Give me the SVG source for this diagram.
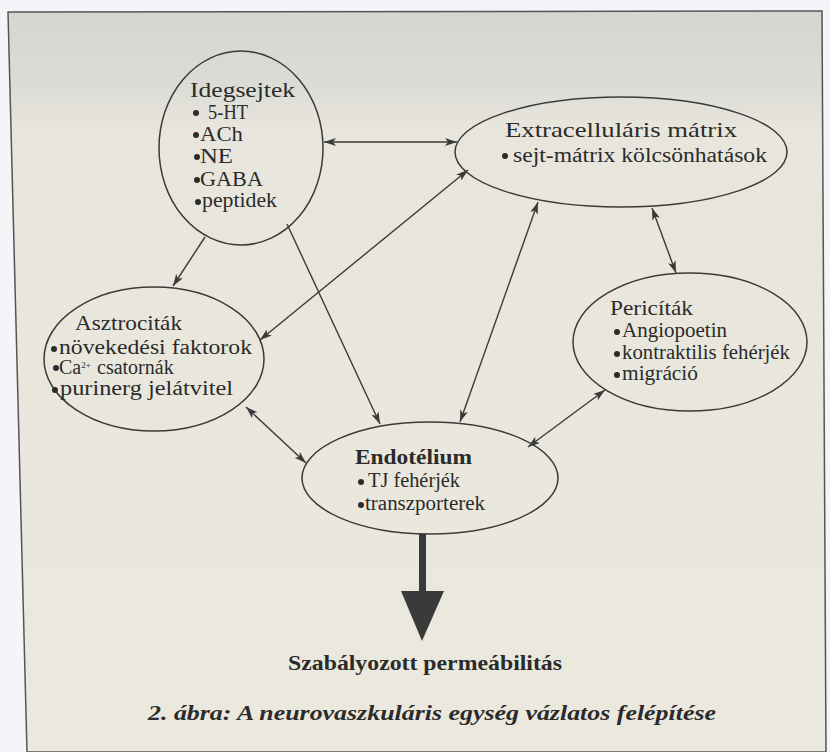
<svg xmlns="http://www.w3.org/2000/svg" width="830" height="752" viewBox="0 0 830 752">
<defs>
<linearGradient id="bg" x1="0" y1="0" x2="0" y2="1">
<stop offset="0" stop-color="#d6d5d2"/>
<stop offset="0.1" stop-color="#dcdbd6"/>
<stop offset="0.16" stop-color="#e8e6dc"/>
<stop offset="1" stop-color="#ebe9de"/>
</linearGradient>
<marker id="ah" viewBox="0 0 12 8" refX="12" refY="4" markerWidth="12" markerHeight="8" markerUnits="userSpaceOnUse" orient="auto-start-reverse">
<path d="M0,0 L12,4 L0,8 L3,4 Z" fill="#3a3a3a"/>
</marker>
<style>
.node ellipse{fill:none;stroke:#3a3a3a;stroke-width:1.5}
.t{font-family:"Liberation Serif","Times New Roman",serif;fill:#2b2b2b;font-size:20px}
.h{font-size:21px}
.b{font-weight:bold}
.dot{fill:#2b2b2b}
#connectors line{stroke:#3a3a3a;stroke-width:1.4;fill:none}
</style>
</defs>
<rect x="0" y="0" width="830" height="752" fill="#f5f4f8"/>
<polygon points="8,12 822,11 826,752 27,752" fill="url(#bg)" stroke="#555" stroke-width="1.5"/>

<g id="connectors">
<line x1="205" y1="237" x2="173" y2="286" marker-end="url(#ah)"/>
<line x1="287" y1="224" x2="380" y2="424" marker-end="url(#ah)"/>
<line x1="324" y1="142" x2="457" y2="142" marker-start="url(#ah)" marker-end="url(#ah)"/>
<line x1="468" y1="170" x2="260" y2="340" marker-start="url(#ah)" marker-end="url(#ah)"/>
<line x1="538" y1="202" x2="460" y2="422" marker-start="url(#ah)" marker-end="url(#ah)"/>
<line x1="652" y1="208" x2="676" y2="273" marker-start="url(#ah)" marker-end="url(#ah)"/>
<line x1="605" y1="390" x2="528" y2="447" marker-start="url(#ah)" marker-end="url(#ah)"/>
<line x1="246" y1="407" x2="306" y2="463" marker-start="url(#ah)" marker-end="url(#ah)"/>
<g id="output-arrow">
<rect x="419" y="534" width="7" height="62" fill="#3a3a3a"/>
<polygon points="401,591 444,591 422,641" fill="#3a3a3a"/>
</g>
</g>

<g id="idegsejtek" class="node">
<ellipse cx="241" cy="148" rx="82" ry="97"/>
<text class="t h" x="190" y="97" textLength="105" lengthAdjust="spacingAndGlyphs">Idegsejtek</text>
<circle class="dot" cx="196" cy="113" r="3"/>
<text class="t" x="208" y="119" textLength="40" lengthAdjust="spacingAndGlyphs">5-HT</text>
<circle class="dot" cx="196" cy="135" r="3"/>
<text class="t" x="200" y="141" textLength="43" lengthAdjust="spacingAndGlyphs">ACh</text>
<circle class="dot" cx="197" cy="157" r="3"/>
<text class="t" x="200" y="163" textLength="33" lengthAdjust="spacingAndGlyphs">NE</text>
<circle class="dot" cx="197" cy="180" r="3"/>
<text class="t" x="200" y="186" textLength="63" lengthAdjust="spacingAndGlyphs">GABA</text>
<circle class="dot" cx="198" cy="202" r="3"/>
<text class="t" x="202" y="207" textLength="75" lengthAdjust="spacingAndGlyphs">peptidek</text>
</g>

<g id="extracellularis" class="node">
<ellipse cx="621" cy="152" rx="166" ry="55"/>
<text class="t h" x="505" y="137" textLength="232" lengthAdjust="spacingAndGlyphs">Extracelluláris mátrix</text>
<circle class="dot" cx="505" cy="156" r="3"/>
<text class="t" x="513" y="162" textLength="254" lengthAdjust="spacingAndGlyphs">sejt-mátrix kölcsönhatások</text>
</g>

<g id="asztrocitak" class="node">
<ellipse cx="154" cy="359" rx="110" ry="72"/>
<text class="t h" x="75" y="330" textLength="107" lengthAdjust="spacingAndGlyphs">Asztrociták</text>
<circle class="dot" cx="54" cy="349" r="3"/>
<text class="t" x="59" y="354" textLength="193" lengthAdjust="spacingAndGlyphs">növekedési faktorok</text>
<circle class="dot" cx="56" cy="368" r="3"/>
<text class="t" x="59" y="374">Ca<tspan font-size="9" dy="-6">2+</tspan><tspan dy="6" x="97">csatornák</tspan></text>
<circle class="dot" cx="55" cy="390" r="3"/>
<text class="t" x="60" y="395" textLength="173" lengthAdjust="spacingAndGlyphs">purinerg jelátvitel</text>
</g>

<g id="pericitak" class="node">
<ellipse cx="690" cy="342" rx="117" ry="69"/>
<text class="t h" x="610" y="315" textLength="83" lengthAdjust="spacingAndGlyphs">Pericíták</text>
<circle class="dot" cx="617" cy="332" r="3"/>
<text class="t" x="622" y="337" textLength="105" lengthAdjust="spacingAndGlyphs">Angiopoetin</text>
<circle class="dot" cx="617" cy="354" r="3"/>
<text class="t" x="622" y="359" textLength="168" lengthAdjust="spacingAndGlyphs">kontraktilis fehérjék</text>
<circle class="dot" cx="617" cy="375" r="3"/>
<text class="t" x="622" y="380" textLength="76" lengthAdjust="spacingAndGlyphs">migráció</text>
</g>

<g id="endotelium" class="node">
<ellipse cx="430" cy="478" rx="128" ry="56"/>
<text class="t h b" x="355" y="464" textLength="117" lengthAdjust="spacingAndGlyphs">Endotélium</text>
<circle class="dot" cx="361" cy="482" r="3"/>
<text class="t" x="368" y="487" textLength="92" lengthAdjust="spacingAndGlyphs">TJ fehérjék</text>
<circle class="dot" cx="361" cy="505" r="3"/>
<text class="t" x="365" y="510" textLength="120" lengthAdjust="spacingAndGlyphs">transzporterek</text>
</g>

<g id="output">
<text class="t h b" x="288" y="670" textLength="274" lengthAdjust="spacingAndGlyphs">Szabályozott permeábilitás</text>
</g>

<g id="caption">
<text class="t b" font-style="italic" font-size="22" x="148" y="720" textLength="568" lengthAdjust="spacingAndGlyphs">2. ábra: A neurovaszkuláris egység vázlatos felépítése</text>
</g>
</svg>
